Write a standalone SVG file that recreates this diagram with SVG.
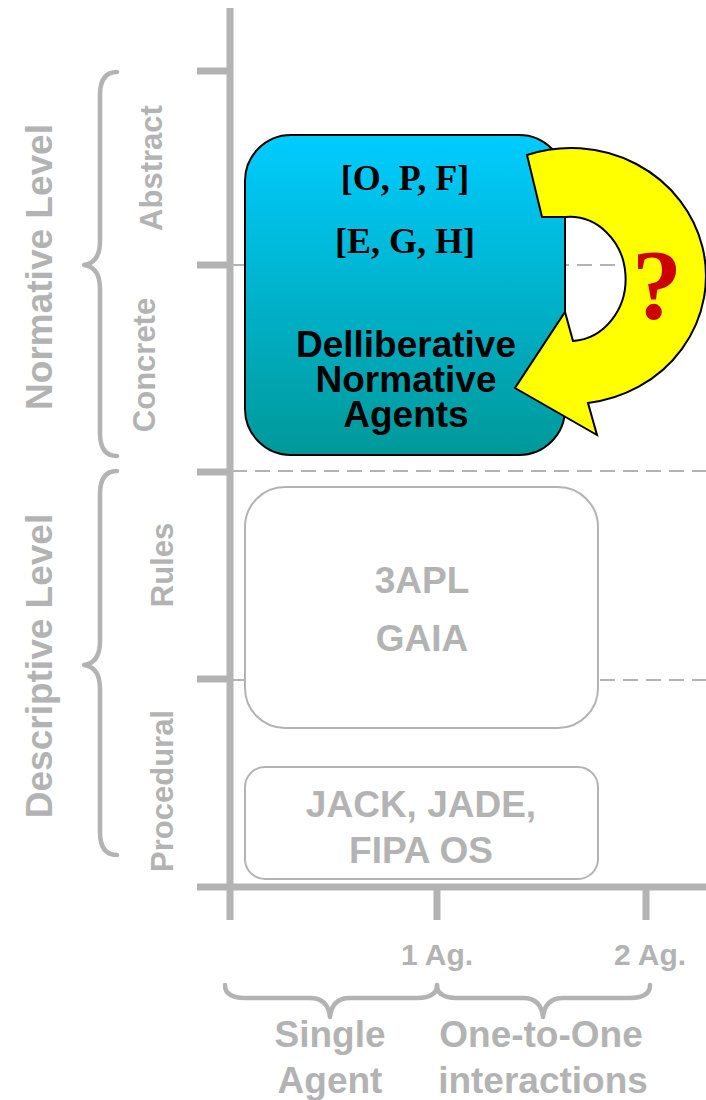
<svg xmlns="http://www.w3.org/2000/svg" width="706" height="1100" viewBox="0 0 706 1100">
<defs>
<linearGradient id="blueGrad" x1="0" y1="0" x2="0" y2="1">
<stop offset="0" stop-color="#00ccff"/>
<stop offset="1" stop-color="#009999"/>
</linearGradient>
<style>
.axis{stroke:#b3b3b3;stroke-width:7;fill:none}
.tick{stroke:#b3b3b3;stroke-width:7;fill:none}
.dash{stroke:#b3b3b3;stroke-width:2;stroke-dasharray:15 8;fill:none}
.brace{stroke:#b3b3b3;stroke-width:4.5;fill:none;stroke-linecap:round;stroke-linejoin:round}
.gbox{fill:#ffffff;stroke:#b3b3b3;stroke-width:2}
.gt{font-family:"Liberation Sans",Arial,sans-serif;font-weight:bold;fill:#b3b3b3;text-anchor:middle}
.bt{font-family:"Liberation Sans",Arial,sans-serif;font-weight:bold;fill:#000000;text-anchor:middle;font-size:37px}
.tt{font-family:"Liberation Serif","Times New Roman",serif;font-weight:bold;fill:#000000;text-anchor:middle;font-size:36px}
</style>
</defs>
<rect width="706" height="1100" fill="#ffffff"/>

<g id="grid">
<line class="dash" x1="232" y1="265" x2="706" y2="265"/>
<line class="dash" x1="232" y1="471" x2="706" y2="471"/>
<line class="dash" x1="232" y1="680" x2="706" y2="680"/>
</g>

<g id="axes">
<line class="axis" x1="230" y1="8" x2="230" y2="920"/>
<line class="axis" x1="197" y1="887" x2="706" y2="887"/>
<line class="tick" x1="197" y1="71" x2="230" y2="71"/>
<line class="tick" x1="197" y1="265" x2="230" y2="265"/>
<line class="tick" x1="197" y1="472" x2="230" y2="472"/>
<line class="tick" x1="197" y1="679" x2="230" y2="679"/>
<line class="tick" x1="437" y1="887" x2="437" y2="920"/>
<line class="tick" x1="646" y1="887" x2="646" y2="920"/>
</g>

<g id="braces">
<path class="brace" d="M117,72 Q100,72 100,95 L100,241 Q100,263 84,265 Q100,267 100,289 L100,433 Q100,456 117,456"/>
<path class="brace" d="M117,471 Q100,471 100,494 L100,641 Q100,663 84,665 Q100,667 100,689 L100,832 Q100,855 117,855"/>
<path class="brace" d="M225,985 Q225,998 245,998 L310,998 Q328,998 330,1017 Q332,998 350,998 L417,998 Q437,998 437,985"/>
<path class="brace" d="M437,985 Q437,998 457,998 L523,998 Q541,998 543,1017 Q545,998 563,998 L630,998 Q650,998 650,985"/>
</g>

<g id="axis-labels">
<text class="gt" font-size="37" transform="translate(52,267) rotate(-90)">Normative Level</text>
<text class="gt" font-size="37" transform="translate(52,666) rotate(-90)">Descriptive Level</text>
<text class="gt" font-size="31" transform="translate(162,168) rotate(-90)">Abstract</text>
<text class="gt" font-size="31" transform="translate(155,365) rotate(-90)">Concrete</text>
<text class="gt" font-size="31" transform="translate(173,565) rotate(-90)">Rules</text>
<text class="gt" font-size="31" transform="translate(173,791) rotate(-90)">Procedural</text>
<text class="gt" font-size="30" x="437" y="965">1 Ag.</text>
<text class="gt" font-size="30" x="650" y="965">2 Ag.</text>
<text class="gt" font-size="37" x="330" y="1047">Single</text>
<text class="gt" font-size="37" x="330" y="1093">Agent</text>
<text class="gt" font-size="37" x="541" y="1047">One-to-One</text>
<text class="gt" font-size="37" x="543" y="1093">interactions</text>
</g>

<g id="node-3apl">
<rect class="gbox" x="245" y="487" width="353" height="241" rx="40" ry="40"/>
<text class="gt" font-size="37" x="422" y="593">3APL</text>
<text class="gt" font-size="37" x="422" y="651">GAIA</text>
</g>

<g id="node-jack">
<rect class="gbox" x="245" y="767" width="353" height="112" rx="20" ry="20"/>
<text class="gt" font-size="37" x="421" y="817">JACK, JADE,</text>
<text class="gt" font-size="37" x="421" y="863">FIPA OS</text>
</g>

<g id="node-dna">
<rect x="245" y="135" width="320" height="320" rx="46" ry="46" fill="url(#blueGrad)" stroke="#000000" stroke-width="2"/>
<text class="tt" x="405" y="190">[O, P, F]</text>
<text class="tt" x="405" y="253">[E, G, H]</text>
<text class="bt" x="406" y="357">Delliberative</text>
<text class="bt" x="406" y="392">Normative</text>
<text class="bt" x="406" y="427">Agents</text>
</g>

<g id="connectors">
<path d="M527,155 A135,128 0 1 1 588,403 L597,435 L515,388 L565,312 L573,341 A56,62 0 1 0 566,217 L542,217 Z" fill="#ffff00" stroke="#000000" stroke-width="2" stroke-linejoin="miter"/>
<text x="657" y="318" font-family="'Liberation Serif','Times New Roman',serif" font-weight="bold" font-size="100" fill="#cc0000" text-anchor="middle">?</text>
</g>
</svg>
